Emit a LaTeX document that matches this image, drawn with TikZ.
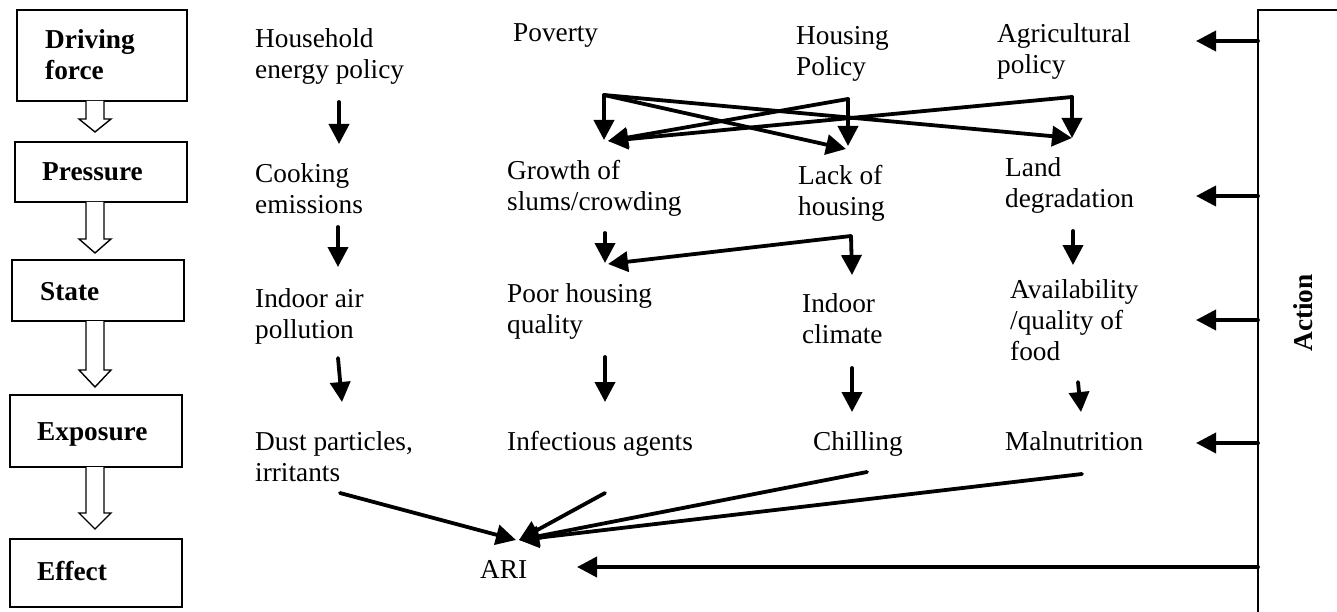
\documentclass[tikz,border=0pt]{standalone}
\usepackage{fontspec}
\setmainfont{Liberation Serif}
\usetikzlibrary{arrows.meta}
\newcommand{\mylines}[1]{\begin{tabular}[t]{@{}l@{}}#1\end{tabular}}
\begin{document}
\begin{tikzpicture}[x=1pt,y=-1pt,
  txt/.style={anchor=base west, inner sep=0pt, font=\fontsize{27.3}{31}\selectfont},
  lbl/.style={anchor=base west, inner sep=0pt, font=\fontsize{27.3}{31}\selectfont\bfseries},
  lvl/.style={draw, line width=2pt, inner sep=0pt},
  arr/.style={line width=3.8pt, line cap=round, -{Triangle[length=20pt,width=20pt]}},
  hollow/.style={draw, line width=1.4pt, line join=miter, fill=white},
  actline/.style={line width=2.2pt},
]
\useasboundingbox (0,0) rectangle (1337,612);
\fill[white] (0,0) rectangle (1337,612);

% ---------- left column boxes ----------
\node[lvl, minimum width=170pt, minimum height=91pt] (df) at (102,55.5) {};
\node[lvl, minimum width=172pt, minimum height=60pt] (pr) at (101,172) {};
\node[lvl, minimum width=172pt, minimum height=61pt] (st) at (98,290.5) {};
\node[lvl, minimum width=172pt, minimum height=72pt] (ex) at (96,431) {};
\node[lvl, minimum width=172pt, minimum height=68pt] (ef) at (96,573) {};

\node[lbl] (dft) at (45,49) {\mylines{Driving\\force}};
\node[lbl] (prt) at (42,181) {Pressure};
\node[lbl] (stt) at (40,300) {State};
\node[lbl] (ext) at (37,440) {Exposure};
\node[lbl] (eft) at (37,580) {Effect};

% hollow arrows between boxes
\draw[hollow] (86,101) -- (86,119) -- (79,119) -- (95,132) -- (111,119) -- (104,119) -- (104,101);
\draw[hollow] (86,202) -- (86,239) -- (79,239) -- (95,253) -- (111,239) -- (104,239) -- (104,202);
\draw[hollow] (86,321) -- (86,370) -- (79,370) -- (95,387) -- (111,370) -- (104,370) -- (104,321);
\draw[hollow] (86,467) -- (86,513) -- (79,513) -- (95,529) -- (111,513) -- (104,513) -- (104,467);

% ---------- texts ----------
\node[txt] (hh) at (255,48) {\mylines{Household\\energy policy}};
\node[txt] (pv) at (513,42) {Poverty};
\node[txt] (hp) at (796,45) {\mylines{Housing\\Policy}};
\node[txt] (ap) at (997,43) {\mylines{Agricultural\\policy}};

\node[txt] (ce) at (255,183) {\mylines{Cooking\\emissions}};
\node[txt] (gs) at (507,180) {\mylines{Growth of\\slums/crowding}};
\node[txt] (lh) at (798,185) {\mylines{Lack of\\housing}};
\node[txt] (ld) at (1005,177) {\mylines{Land\\degradation}};

\node[txt] (ia) at (255,307) {\mylines{Indoor air\\pollution}};
\node[txt] (ph) at (507,302) {\mylines{Poor housing\\quality}};
\node[txt] (ic) at (802,312) {\mylines{Indoor\\climate}};
\node[txt] (af) at (1010,298) {\mylines{Availability\\/quality of\\food}};

\node[txt] (dp) at (255,450) {\mylines{Dust particles,\\irritants}};
\node[txt] (in) at (507,450) {Infectious agents};
\node[txt] (ch) at (813,450) {Chilling};
\node[txt] (mn) at (1005,450) {Malnutrition};

\node[txt] (ari) at (480,578) {ARI};

\node[font=\fontsize{27.3}{31}\selectfont\bfseries, rotate=90, inner sep=0pt] (act) at (1303,313) {Action};

% ---------- connector points ----------
\coordinate (hh-o) at (339,102);  \coordinate (ce-i) at (339,144);
\coordinate (ce-o) at (338,227);  \coordinate (ia-i) at (338,267);
\coordinate (ia-o) at (338,358);  \coordinate (dp-i) at (342,402);

\coordinate (pv-c) at (604,95);
\coordinate (hp-c) at (848,99);
\coordinate (ap-c) at (1072,97);
\coordinate (gs-i1) at (604,140);
\coordinate (gs-i2) at (608,141);
\coordinate (lh-i1) at (848,146);
\coordinate (lh-i2) at (846,149);
\coordinate (ld-i) at (1072,138);

\coordinate (gs-o) at (605,233);  \coordinate (ph-i1) at (605,263);
\coordinate (lh-c) at (851,236);  \coordinate (ph-i2) at (608,264);
\coordinate (ic-i) at (852,275);
\coordinate (ld-o) at (1073,231); \coordinate (af-i) at (1073,265);

\coordinate (ph-o) at (605,357);  \coordinate (in-i) at (605,402);
\coordinate (ic-o) at (852,368);  \coordinate (ch-i) at (852,412);
\coordinate (af-o) at (1078,382); \coordinate (mn-i) at (1081,412);

\coordinate (dp-o) at (340,493);
\coordinate (in-o) at (605,493);
\coordinate (ch-o) at (867,472);
\coordinate (mn-o) at (1082,474);
\coordinate (ari-i1) at (516,540);
\coordinate (ari-i2) at (519,540);

% action bracket
\coordinate (act-top) at (1258,10);
\coordinate (act-tr) at (1337,10);
\coordinate (act-bot) at (1258,612);
\coordinate (a1) at (1258,41);  \coordinate (a1t) at (1196,41);
\coordinate (a2) at (1258,196); \coordinate (a2t) at (1196,196);
\coordinate (a3) at (1258,320); \coordinate (a3t) at (1196,320);
\coordinate (a4) at (1258,443); \coordinate (a4t) at (1196,443);
\coordinate (a5) at (1258,567); \coordinate (ari-r) at (577,567);

% ---------- connectors ----------
\draw[arr] (hh-o) -- (ce-i);
\draw[arr] (ce-o) -- (ia-i);
\draw[arr] (ia-o) -- (dp-i);

\draw[arr] (pv-c) -- (gs-i1);
\draw[arr] (pv-c) -- (lh-i2);
\draw[arr] (pv-c) -- (ld-i);
\draw[arr] (hp-c) -- (lh-i1);
\draw[arr] (hp-c) -- (gs-i2);
\draw[arr] (ap-c) -- (ld-i);
\draw[arr] (ap-c) -- (gs-i2);

\draw[arr] (gs-o) -- (ph-i1);
\draw[arr] (lh-c) -- (ic-i);
\draw[arr] (lh-c) -- (ph-i2);
\draw[arr] (ld-o) -- (af-i);

\draw[arr] (ph-o) -- (in-i);
\draw[arr] (ic-o) -- (ch-i);
\draw[arr] (af-o) -- (mn-i);

\draw[arr] (dp-o) -- (ari-i1);
\draw[arr] (in-o) -- (ari-i2);
\draw[arr] (ch-o) -- (ari-i2);
\draw[arr] (mn-o) -- (ari-i2);

\draw[actline] (act-bot) -- (act-top) -- (act-tr);
\draw[arr] (a1) -- (a1t);
\draw[arr] (a2) -- (a2t);
\draw[arr] (a3) -- (a3t);
\draw[arr] (a4) -- (a4t);
\draw[arr] (a5) -- (ari-r);
\end{tikzpicture}
\end{document}
